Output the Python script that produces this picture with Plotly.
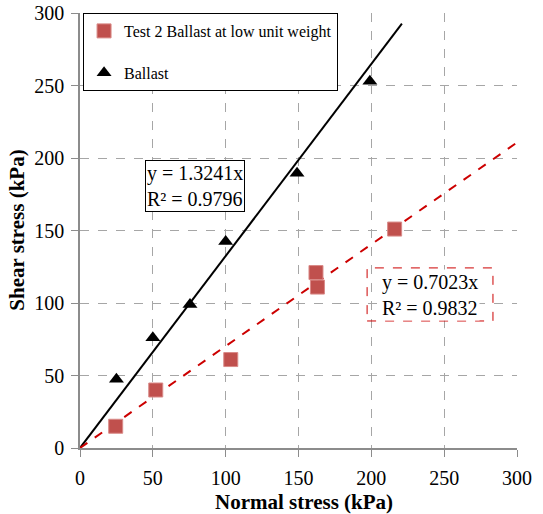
import plotly.graph_objects as go

# Data
ballast_x = [25, 50, 75.5, 100, 149, 199]
ballast_y = [47.5, 76, 99, 142.5, 189.5, 253]
low_x = [24.5, 52, 103.5, 162, 163, 216]
low_y = [15, 40, 61, 121, 111, 151]
slope_ballast = 1.3241
slope_low = 0.7023
fit_ballast_x = [0, 221]
fit_low_x = [0, 300]
x_ticks = [0, 50, 100, 150, 200, 250, 300]
y_ticks = [0, 50, 100, 150, 200, 250, 300]

FONT = "'Times New Roman', 'Liberation Serif', Times, serif"
RED = "#C0504D"

fig = go.Figure()
fig.add_trace(go.Scatter(
    x=fit_ballast_x, y=[slope_ballast * v for v in fit_ballast_x], mode="lines",
    line=dict(color="black", width=2), showlegend=False, hoverinfo="skip"))
fig.add_trace(go.Scatter(
    x=fit_low_x, y=[slope_low * v for v in fit_low_x], mode="lines",
    line=dict(color="#CC0000", width=2, dash="dash"), showlegend=False, hoverinfo="skip"))
fig.add_trace(go.Scatter(
    x=low_x, y=low_y, mode="markers", name="Test 2 Ballast at low unit weight",
    marker=dict(symbol="square", size=14, color=RED, line=dict(color="#D98A88", width=1)),
    legendgroup="a"))
fig.add_trace(go.Scatter(
    x=ballast_x, y=ballast_y, mode="markers", name="Ballast",
    marker=dict(symbol="triangle-up", size=13, color="black"),
    legendgroup="b"))

axis_common = dict(
    showgrid=True, gridcolor="#A6A6A6", griddash="dash", gridwidth=1,
    showline=True, linecolor="#8C8C8C", linewidth=1.5,
    ticks="outside", ticklen=7, tickcolor="#8C8C8C",
    tickfont=dict(family=FONT, size=20, color="black"),
    zeroline=False, mirror=False, automargin=False,
    ticklabeloverflow="allow",
)
fig.update_xaxes(range=[0, 300], tickvals=x_ticks, ticklabelstandoff=4, **axis_common)
fig.update_yaxes(range=[0, 300], tickvals=y_ticks, ticklabelstandoff=3, **axis_common)

# Axis titles
fig.add_annotation(x=0.513, y=-0.125, xref="paper", yref="paper",
                   xanchor="center", yanchor="middle",
                   text="<b>Normal stress (kPa)</b>", showarrow=False,
                   font=dict(family=FONT, size=21, color="black"))
fig.add_annotation(x=-0.146, y=0.5, xref="paper", yref="paper", textangle=-90,
                   xanchor="center", yanchor="middle",
                   text="<b>Shear stress (kPa)</b>", showarrow=False,
                   font=dict(family=FONT, size=21, color="black"))

fig.add_annotation(x=79, y=181, xref="x", yref="y",
                   text="y = 1.3241x<br>R² = 0.9796", showarrow=False, align="left",
                   font=dict(family=FONT, size=20, color="black"),
                   bordercolor="black", borderwidth=1, borderpad=1, bgcolor="white")
fig.add_annotation(x=240, y=105.5, xref="x", yref="y",
                   text="y = 0.7023x<br>R² = 0.9832", showarrow=False, align="left",
                   font=dict(family=FONT, size=20, color="black"), bgcolor="white")
fig.add_shape(type="rect", xref="paper", yref="paper", x0=0.657, x1=0.945, y0=0.292, y1=0.414,
              line=dict(color="#CC0000", width=1, dash="dash"), layer="above")

fig.update_layout(
    width=543, height=514,
    margin=dict(l=80, r=26, t=13, b=66),
    paper_bgcolor="white", plot_bgcolor="white",
    font=dict(family=FONT, color="black"),
    legend=dict(x=0.007, y=1, xanchor="left", yanchor="top",
                bgcolor="white", bordercolor="black", borderwidth=1,
                font=dict(family=FONT, size=16, color="black"),
                tracegroupgap=18, traceorder="grouped", itemwidth=30),
)

fig.write_html("out.html", config={"displayModeBar": False},
               post_script="document.body.style.margin='0';document.body.style.overflow='hidden';")
